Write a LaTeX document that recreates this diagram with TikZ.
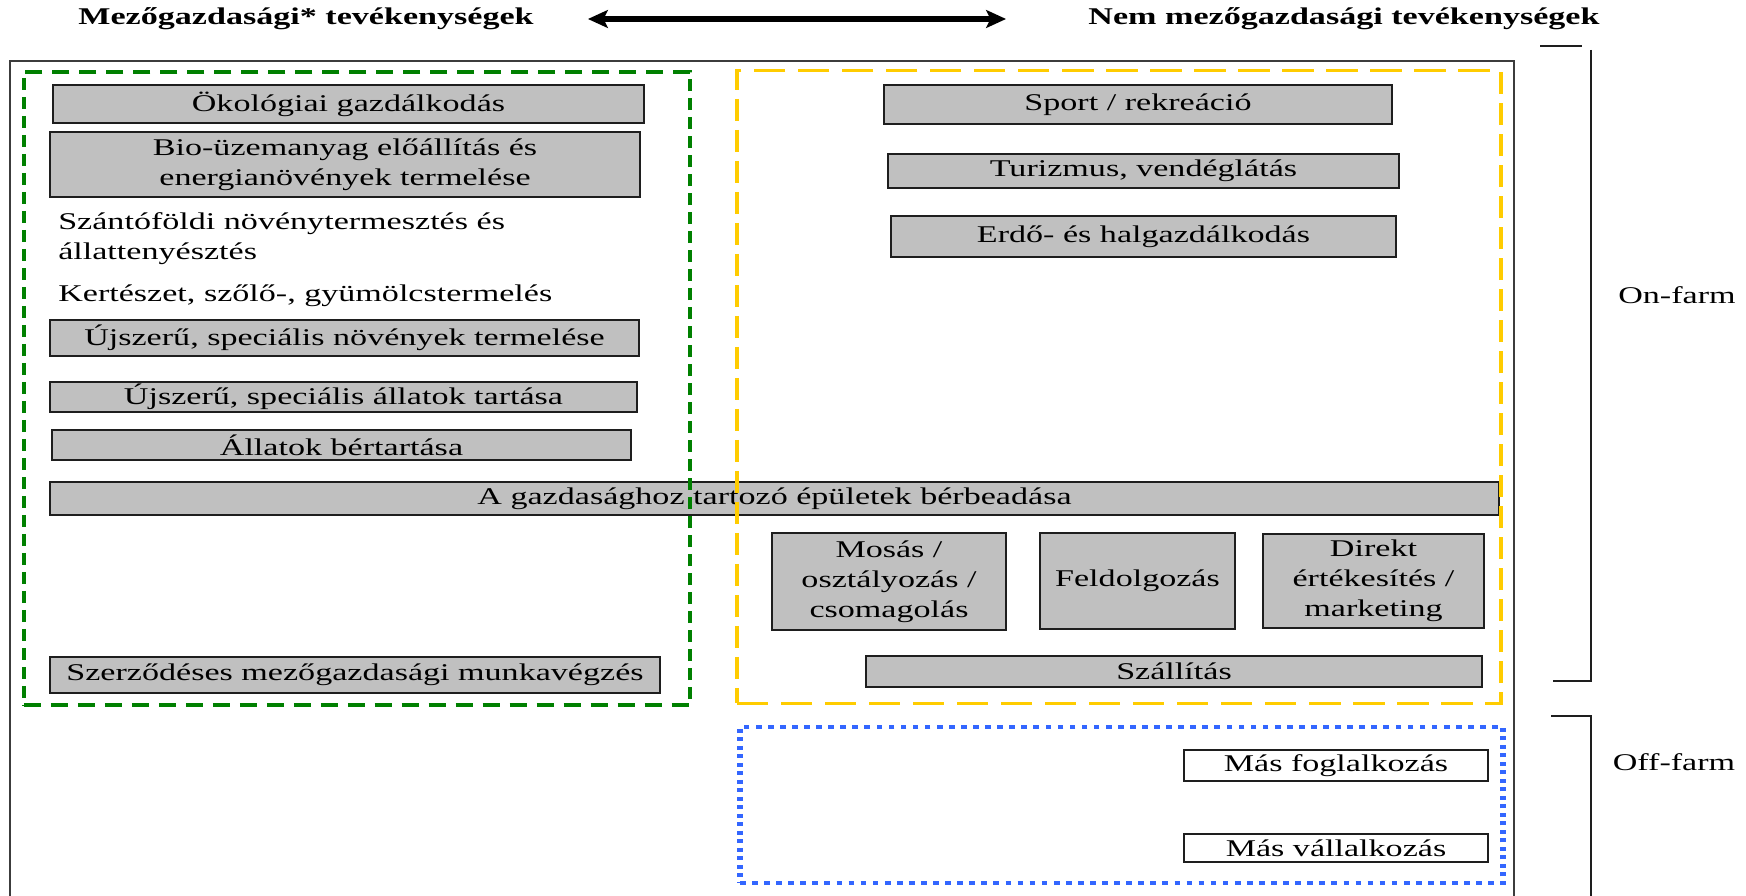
\documentclass[tikz,border=0pt]{standalone}
\usepackage{fontspec}
\setmainfont{Liberation Serif}
\usetikzlibrary{fit,arrows.meta}
\definecolor{boxgray}{RGB}{192,192,192}
\definecolor{boxline}{RGB}{30,30,30}
\definecolor{outerline}{RGB}{60,60,60}
\definecolor{dgreen}{RGB}{0,128,0}
\definecolor{dyellow}{RGB}{255,204,0}
\definecolor{dblue}{RGB}{51,102,255}
\tikzset{
  gbox/.style={draw=boxline, fill=boxgray, line width=1.3pt, inner sep=0pt, align=center},
  wbox/.style={draw=boxline, fill=white, line width=1.3pt, inner sep=0pt, align=center},
  span/.style n args={4}{minimum width={(#3-#1)*0.704225pt}, minimum height={(#4-#2)*1pt}},
  plaintext/.style={inner sep=0pt, align=left, anchor=west},
  titletext/.style={inner sep=0pt, font=\fontsize{24}{30}\selectfont\bfseries},
  thinline/.style={draw=boxline, line width=1.3pt},
}
\begin{document}
\begin{tikzpicture}[x=1pt,y=-1pt]
\useasboundingbox (0,0) rectangle (1746,896);
\begin{scope}[transform canvas={xscale=1.42}, x=0.704225pt, y=-1pt, font=\fontsize{24}{30}\selectfont]
  % titles and arrow
  \node[titletext] (tl) at (306,19) {Mezőgazdasági* tevékenységek};
  \node[titletext] (tr) at (1344,19) {Nem mezőgazdasági tevékenységek};
  \coordinate (al) at (588,19);
  \coordinate (ar) at (1006,19);
  \draw[line width=5.5pt, {Stealth[length=14pt,width=18pt,inset=3pt]}-{Stealth[length=14pt,width=18pt,inset=3pt]}] (al) -- (ar);

  % outer frame
  \coordinate (o1) at (10,900);
  \coordinate (o2) at (10,61);
  \coordinate (o3) at (1514,61);
  \coordinate (o4) at (1514,900);
  \draw[draw=outerline, line width=1.4pt] (o1) -- (o2) -- (o3) -- (o4);

  % left column
  \node[gbox, span={53}{85}{644}{123}] (oko) at ({(53+644)/2},{(85+123)/2}) {Ökológiai gazdálkodás};
  \node[gbox, span={50}{132}{640}{197}] (bio) at ({(50+640)/2},{(132+197)/2}) {Bio-üzemanyag előállítás és\\energianövények termelése};
  \node[plaintext] (szanto) at (58,239) {Szántóföldi növénytermesztés és\\állattenyésztés};
  \node[plaintext] (kert) at (58,296) {Kertészet, szőlő-, gyümölcstermelés};
  \node[gbox, span={50}{320}{639}{356}] (ujn) at ({(50+639)/2},{(320+356)/2}) {Újszerű, speciális növények termelése};
  \node[gbox, span={50}{382}{637}{412}] (uja) at ({(50+637)/2},{(382+412)/2}) {Újszerű, speciális állatok tartása};
  \node[gbox, span={52}{430}{631}{460}] (bert) at ({(52+631)/2},{(430+460)/2}) {Állatok bértartása};
  \node[gbox, span={50}{482}{1499}{515}] (epul) at ({(50+1499)/2},{(482+515)/2}) {A gazdasághoz tartozó épületek bérbeadása};
  \node[gbox, span={50}{657}{660}{693}] (szerz) at ({(50+660)/2},{(657+693)/2}) {Szerződéses mezőgazdasági munkavégzés};

  % right column
  \node[gbox, span={884}{85}{1392}{124}] (sport) at ({(884+1392)/2},{(85+124)/2}) {Sport / rekreáció};
  \node[gbox, span={888}{154}{1399}{188}] (turiz) at ({(888+1399)/2},{(154+188)/2}) {Turizmus, vendéglátás};
  \node[gbox, span={891}{216}{1396}{257}] (erdo) at ({(891+1396)/2},{(216+257)/2}) {Erdő- és halgazdálkodás};
  \node[gbox, span={772}{533}{1006}{630}] (mosas) at ({(772+1006)/2},{(533+630)/2}) {Mosás /\\osztályozás /\\csomagolás};
  \node[gbox, span={1040}{533}{1235}{629}] (feld) at ({(1040+1235)/2},{(533+629)/2}) {Feldolgozás};
  \node[gbox, span={1263}{534}{1484}{628}] (direkt) at ({(1263+1484)/2},{(534+628)/2}) {Direkt\\értékesítés /\\marketing};
  \node[gbox, span={866}{656}{1482}{687}] (szall) at ({(866+1482)/2},{(656+687)/2}) {Szállítás};
  \node[wbox, span={1184}{750}{1488}{781}] (masf) at ({(1184+1488)/2},{(750+781)/2}) {Más foglalkozás};
  \node[wbox, span={1184}{834}{1488}{862}] (masv) at ({(1184+1488)/2},{(834+862)/2}) {Más vállalkozás};

  % dashed group frames
  \node[draw=dgreen, line width=3.2pt, dash pattern=on 12pt off 7pt, inner sep=0pt, fit={(24,72) (690,705)}] (green) {};
  \node[draw=dyellow, line width=3pt, dash pattern=on 22pt off 9pt, inner sep=0pt, fit={(737,71) (1501,703)}] (yellow) {};
  \node[draw=dblue, line width=4pt, dash pattern=on 4pt off 4.5pt, inner sep=0pt, fit={(740,727) (1503,883)}] (blue) {};

  % brackets
  \coordinate (t1) at (1540,46);
  \coordinate (t2) at (1582,46);
  \draw[thinline] (t1) -- (t2);
  \coordinate (v1) at (1591,50);
  \coordinate (v2) at (1591,681);
  \coordinate (b1) at (1553,681);
  \draw[thinline] (v1) -- (v2) -- (b1);
  \coordinate (f1) at (1551,716);
  \coordinate (f2) at (1591,716);
  \coordinate (f3) at (1591,900);
  \draw[thinline] (f1) -- (f2) -- (f3);
  \node (on) at (1677,295) {On-farm};
  \node (off) at (1674,762) {Off-farm};
\end{scope}
\end{tikzpicture}
\end{document}
